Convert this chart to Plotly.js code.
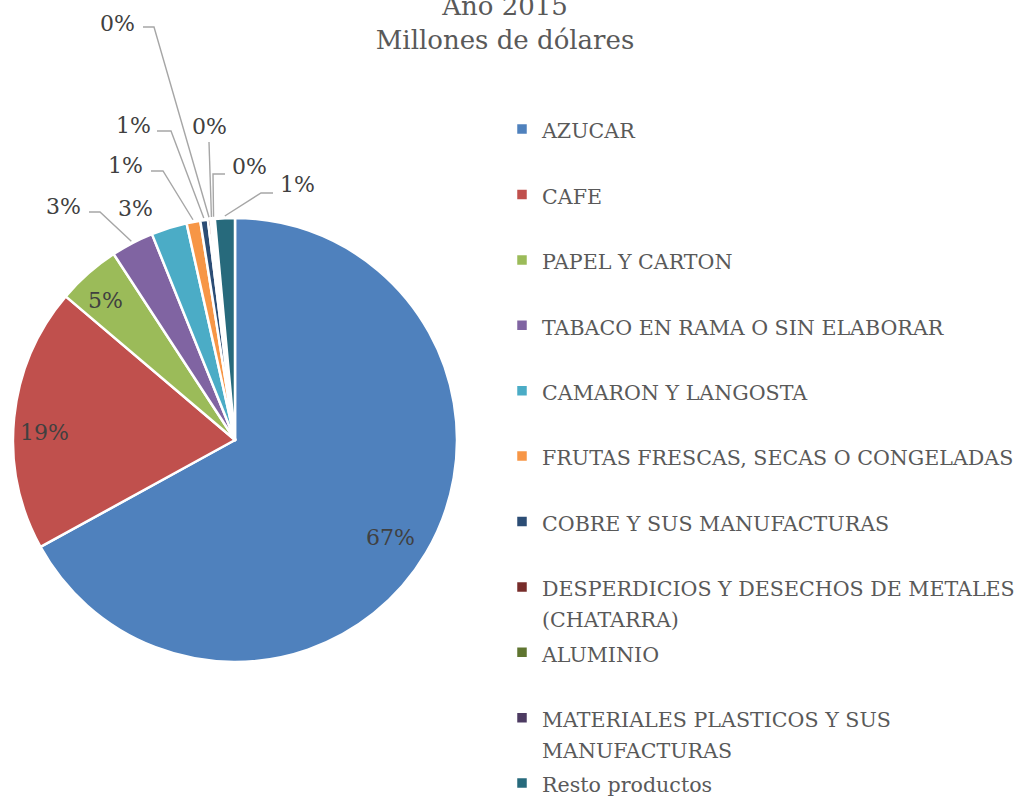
<!DOCTYPE html>
<html>
<head>
<meta charset="utf-8">
<script src="https://cdn.plot.ly/plotly-3.0.1.min.js"></script>
<style>html,body{margin:0;padding:0;background:#fff;}</style>
</head>
<body>
<div id="chart" style="width:1026px;height:800px;"></div>
<script>
// ---- data ----
const categories = [
  "AZUCAR",
  "CAFE",
  "PAPEL Y CARTON",
  "TABACO EN RAMA O SIN ELABORAR",
  "CAMARON Y LANGOSTA",
  "FRUTAS FRESCAS, SECAS O CONGELADAS",
  "COBRE Y SUS MANUFACTURAS",
  "DESPERDICIOS Y DESECHOS DE METALES (CHATARRA)",
  "ALUMINIO",
  "MATERIALES PLASTICOS Y SUS MANUFACTURAS",
  "Resto productos"
];
const shares = [67.0, 19.2, 4.6, 3.1, 2.6, 1.0, 0.55, 0.2, 0.15, 0.15, 1.45];
const titleLines = ["Año 2015", "Millones de dólares"];

// ---- styles / layout constants ----
const W = 1026, H = 800;
const colors = ["#4F81BD","#C0504D","#9BBB59","#8064A2","#4BACC6","#F79646",
                "#2C4D75","#772C2A","#5F7530","#4D3B62","#276A7C"];
const pieDomain = {x: [13 / W, 457 / W], y: [1 - 662 / H, 1 - 218 / H]};
const legendWrap = {
  "DESPERDICIOS Y DESECHOS DE METALES (CHATARRA)": ["DESPERDICIOS Y DESECHOS DE METALES", "(CHATARRA)"],
  "MATERIALES PLASTICOS Y SUS MANUFACTURAS": ["MATERIALES PLASTICOS Y SUS", "MANUFACTURAS"],
  "Resto productos": ["Resto productos"]
};
const insideLabels = {0: {r: 0.825, da: 1.4}, 1: {r: 0.86, da: -3.4}, 2: {r: 0.86, da: -1.5}};
const outsideLabels = {
  3: {t: [63, 206], l: [[89, 212], [100, 212]]},
  4: {t: [135, 208]},
  5: {t: [125, 165], l: [[151, 171], [163, 171]]},
  6: {t: [133, 126], l: [[157, 131], [171, 131]]},
  7: {t: [117, 23], l: [[143, 27], [154, 27]]},
  8: {t: [209, 127], l: [[209, 142], [209, 142]]},
  9: {t: [249, 166], l: [[225, 174], [213, 174]]},
  10: {t: [297, 185], l: [[273, 193], [261, 193]]}
};

const SERIF = "DejaVu Serif";
const px2x = p => p / W;
const py2y = p => 1 - p / H;

const cx = (pieDomain.x[0] + pieDomain.x[1]) / 2 * W;
const cy = (1 - (pieDomain.y[0] + pieDomain.y[1]) / 2) * H;
const R = Math.min((pieDomain.x[1] - pieDomain.x[0]) * W, (pieDomain.y[1] - pieDomain.y[0]) * H) / 2;

const total = shares.reduce((a, b) => a + b, 0);
let cum = 0;
const midAngles = shares.map(v => { const m = (cum + v / 2) / total * 2 * Math.PI; cum += v; return m; });
const pctText = shares.map(v => Math.round(v / total * 100) + "%");

const annotations = [];
const shapes = [];
shares.forEach((v, i) => {
  const a = midAngles[i];
  const lblFont = {family: SERIF, size: 22, color: "#404040"};
  if (insideLabels[i] !== undefined) {
    const r = R * insideLabels[i].r, aa = a + insideLabels[i].da * Math.PI / 180;
    annotations.push({
      x: px2x(cx + r * Math.sin(aa)), y: py2y(cy - r * Math.cos(aa)),
      xref: "paper", yref: "paper", text: pctText[i], showarrow: false,
      xanchor: "center", yanchor: "middle", font: lblFont
    });
  } else if (outsideLabels[i]) {
    const o = outsideLabels[i];
    annotations.push({
      x: px2x(o.t[0]), y: py2y(o.t[1]), xref: "paper", yref: "paper",
      text: pctText[i], showarrow: false, xanchor: "center", yanchor: "middle", font: lblFont
    });
    if (o.l) {
      const tipX = cx + R * 1.01 * Math.sin(a), tipY = cy - R * 1.01 * Math.cos(a);
      const p = [o.l[0], o.l[1], [tipX, tipY]];
      const path = p.map((q, k) => (k ? "L" : "M") + px2x(q[0]).toFixed(5) + "," + py2y(q[1]).toFixed(5)).join(" ");
      shapes.push({type: "path", xref: "paper", yref: "paper", path: path,
                   line: {color: "#A6A6A6", width: 1.4}});
    }
  }
});

const legendLabels = categories.map(c => {
  const lines = legendWrap[c] || [c, " "];
  return lines.map(s => '<span style="font-size:20.6px">' + s + '</span>').join("<br>");
});

const trace = {
  type: "pie",
  labels: legendLabels,
  values: shares,
  sort: false,
  direction: "clockwise",
  rotation: 0,
  textinfo: "none",
  hoverinfo: "label+percent",
  domain: pieDomain,
  marker: {colors: colors, line: {color: "#FFFFFF", width: 2.5}}
};

const layout = {
  width: W, height: H,
  margin: {l: 0, r: 0, t: 0, b: 0, autoexpand: false},
  paper_bgcolor: "#FFFFFF",
  title: {
    text: titleLines.join("<br>"),
    font: {family: SERIF, size: 26, color: "#595959"},
    x: 505 / W, xanchor: "center", xref: "container",
    y: 1 - 15 / H, yanchor: "middle", yref: "container"
  },
  showlegend: true,
  legend: {
    x: 502 / W, xanchor: "left",
    y: 1 - 107 / H, yanchor: "top",
    valign: "top",
    maxheight: 798,
    font: {family: SERIF, size: 24, color: "#595959"},
    bgcolor: "rgba(0,0,0,0)",
    traceorder: "normal"
  },
  annotations: annotations,
  shapes: shapes
};

Plotly.newPlot("chart", [trace], layout, {displayModeBar: false, staticPlot: true});
</script>
</body>
</html>
